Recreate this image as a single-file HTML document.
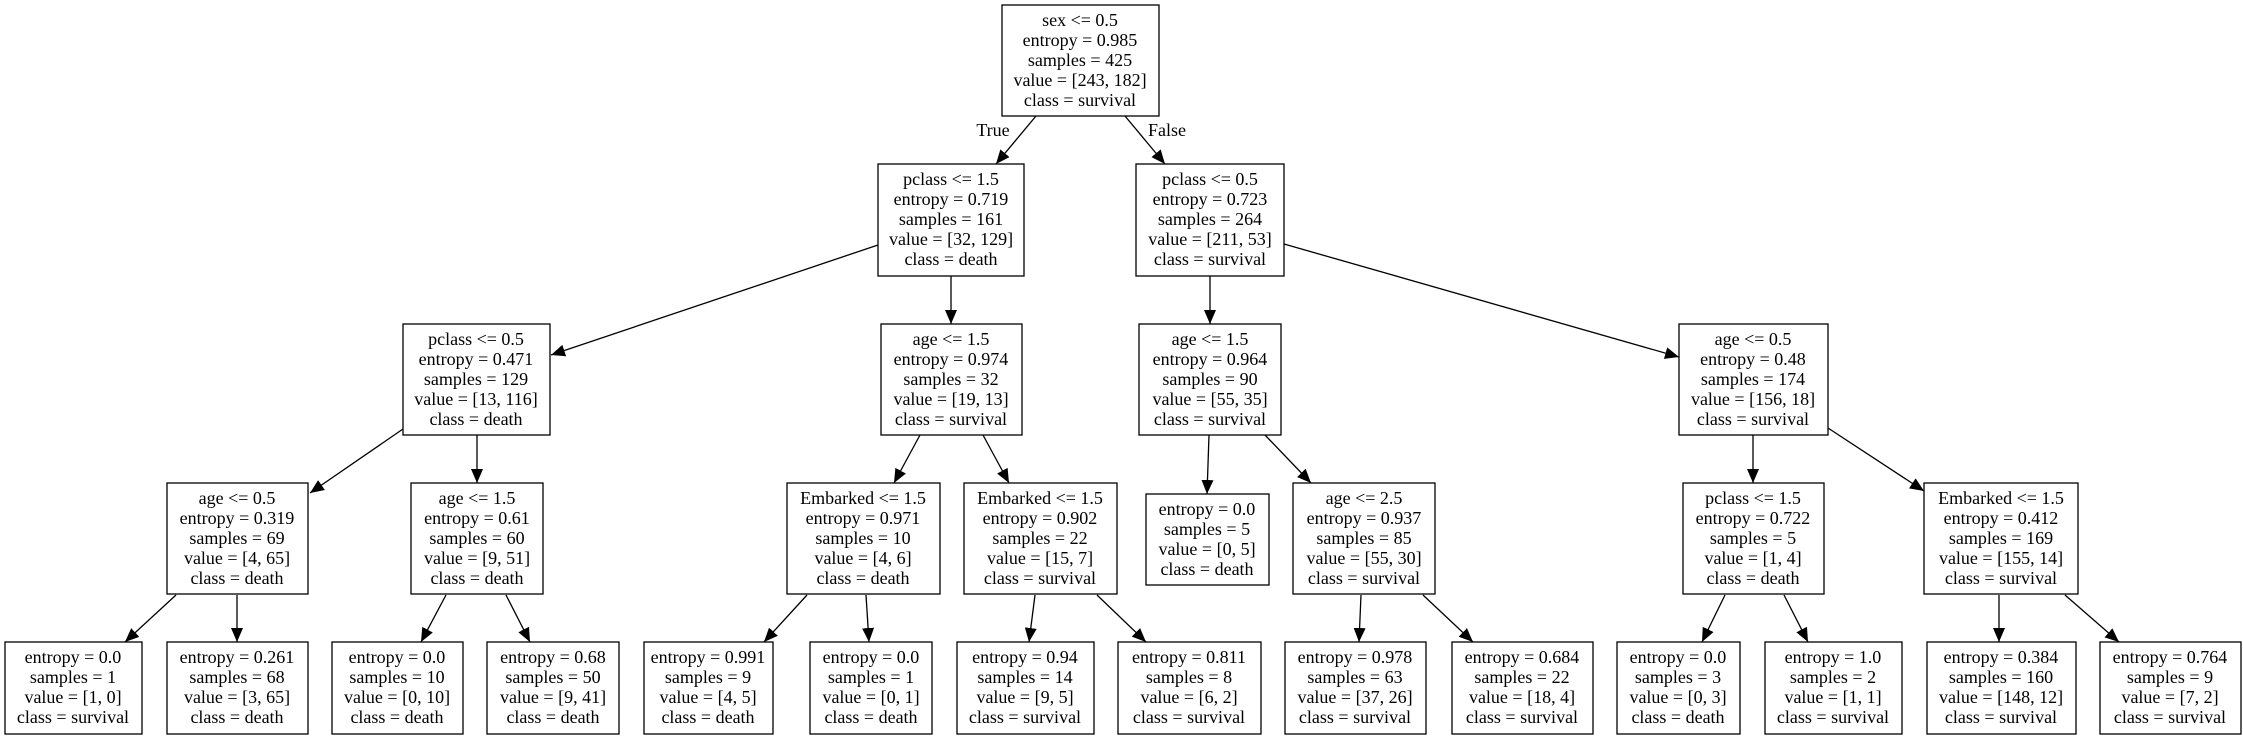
<!DOCTYPE html>
<html><head><meta charset="utf-8"><style>
html,body{margin:0;padding:0;background:#fff;}
svg{display:block;}
text{font-family:"Liberation Serif",serif;font-size:18px;fill:#000;}
</style></head><body>
<svg width="2243" height="736" viewBox="0 0 2243 736" xmlns="http://www.w3.org/2000/svg">
<defs>
<marker id="a" markerUnits="userSpaceOnUse" markerWidth="14" markerHeight="12" refX="14" refY="6" orient="auto">
<path d="M0,0 L14,6 L0,12 Z" fill="#000"/>
</marker>
</defs>
<g stroke="#000" stroke-width="1.3" fill="#fff">
<rect x="1002" y="5" width="157" height="111"/>
<rect x="878" y="164" width="146" height="112"/>
<rect x="1136" y="164" width="148" height="112"/>
<rect x="403" y="324" width="147" height="111"/>
<rect x="881" y="324" width="141" height="111"/>
<rect x="1139" y="324" width="142" height="111"/>
<rect x="1679" y="324" width="149" height="111"/>
<rect x="167" y="483" width="141" height="111"/>
<rect x="411" y="483" width="132" height="111"/>
<rect x="787" y="483" width="153" height="111"/>
<rect x="964" y="483" width="153" height="111"/>
<rect x="1146" y="494" width="123" height="91"/>
<rect x="1293" y="483" width="142" height="111"/>
<rect x="1683" y="483" width="141" height="111"/>
<rect x="1924" y="483" width="154" height="111"/>
<rect x="5" y="642" width="137" height="92"/>
<rect x="167" y="642" width="141" height="92"/>
<rect x="332" y="642" width="131" height="92"/>
<rect x="487" y="642" width="132" height="92"/>
<rect x="644" y="642" width="129" height="92"/>
<rect x="810" y="642" width="122" height="92"/>
<rect x="957" y="642" width="137" height="92"/>
<rect x="1118" y="642" width="143" height="92"/>
<rect x="1285" y="642" width="141" height="92"/>
<rect x="1452" y="642" width="141" height="92"/>
<rect x="1617" y="642" width="123" height="92"/>
<rect x="1765" y="642" width="137" height="92"/>
<rect x="1927" y="642" width="149" height="92"/>
<rect x="2100" y="642" width="141" height="92"/>
</g>
<g stroke="#000" stroke-width="1.3" marker-end="url(#a)">
<line x1="1036" y1="116" x2="996" y2="164"/>
<line x1="1125" y1="116" x2="1165" y2="164"/>
<line x1="878" y1="245" x2="551" y2="355"/>
<line x1="951" y1="276" x2="951" y2="324"/>
<line x1="1210" y1="276" x2="1210" y2="324"/>
<line x1="1284" y1="244" x2="1679" y2="357"/>
<line x1="403" y1="429" x2="310" y2="493"/>
<line x1="477" y1="435" x2="477" y2="483"/>
<line x1="920" y1="435" x2="894" y2="483"/>
<line x1="983" y1="435" x2="1009" y2="483"/>
<line x1="1209" y1="435" x2="1207" y2="494"/>
<line x1="1265" y1="435" x2="1311" y2="483"/>
<line x1="1753" y1="435" x2="1753" y2="483"/>
<line x1="1828" y1="428" x2="1924" y2="491"/>
<line x1="176" y1="595" x2="125" y2="642"/>
<line x1="237" y1="595" x2="237" y2="642"/>
<line x1="446" y1="595" x2="421" y2="642"/>
<line x1="506" y1="595" x2="530" y2="642"/>
<line x1="807" y1="595" x2="764" y2="642"/>
<line x1="866" y1="595" x2="869" y2="642"/>
<line x1="1035" y1="595" x2="1029" y2="642"/>
<line x1="1097" y1="595" x2="1146" y2="642"/>
<line x1="1361" y1="595" x2="1359" y2="642"/>
<line x1="1423" y1="595" x2="1473" y2="642"/>
<line x1="1725" y1="595" x2="1702" y2="642"/>
<line x1="1784" y1="595" x2="1808" y2="642"/>
<line x1="1999" y1="595" x2="1999" y2="642"/>
<line x1="2065" y1="595" x2="2119" y2="642"/>
</g>
<text x="993" y="136" text-anchor="middle">True</text>
<text x="1167" y="136" text-anchor="middle">False</text>
<g text-anchor="middle">
<text y="26"><tspan x="1080">sex &lt;= 0.5</tspan><tspan x="1080" dy="20">entropy = 0.985</tspan><tspan x="1080" dy="20">samples = 425</tspan><tspan x="1080" dy="20">value = [243, 182]</tspan><tspan x="1080" dy="20">class = survival</tspan></text>
<text y="185"><tspan x="951">pclass &lt;= 1.5</tspan><tspan x="951" dy="20">entropy = 0.719</tspan><tspan x="951" dy="20">samples = 161</tspan><tspan x="951" dy="20">value = [32, 129]</tspan><tspan x="951" dy="20">class = death</tspan></text>
<text y="185"><tspan x="1210">pclass &lt;= 0.5</tspan><tspan x="1210" dy="20">entropy = 0.723</tspan><tspan x="1210" dy="20">samples = 264</tspan><tspan x="1210" dy="20">value = [211, 53]</tspan><tspan x="1210" dy="20">class = survival</tspan></text>
<text y="345"><tspan x="476">pclass &lt;= 0.5</tspan><tspan x="476" dy="20">entropy = 0.471</tspan><tspan x="476" dy="20">samples = 129</tspan><tspan x="476" dy="20">value = [13, 116]</tspan><tspan x="476" dy="20">class = death</tspan></text>
<text y="345"><tspan x="951">age &lt;= 1.5</tspan><tspan x="951" dy="20">entropy = 0.974</tspan><tspan x="951" dy="20">samples = 32</tspan><tspan x="951" dy="20">value = [19, 13]</tspan><tspan x="951" dy="20">class = survival</tspan></text>
<text y="345"><tspan x="1210">age &lt;= 1.5</tspan><tspan x="1210" dy="20">entropy = 0.964</tspan><tspan x="1210" dy="20">samples = 90</tspan><tspan x="1210" dy="20">value = [55, 35]</tspan><tspan x="1210" dy="20">class = survival</tspan></text>
<text y="345"><tspan x="1753">age &lt;= 0.5</tspan><tspan x="1753" dy="20">entropy = 0.48</tspan><tspan x="1753" dy="20">samples = 174</tspan><tspan x="1753" dy="20">value = [156, 18]</tspan><tspan x="1753" dy="20">class = survival</tspan></text>
<text y="504"><tspan x="237">age &lt;= 0.5</tspan><tspan x="237" dy="20">entropy = 0.319</tspan><tspan x="237" dy="20">samples = 69</tspan><tspan x="237" dy="20">value = [4, 65]</tspan><tspan x="237" dy="20">class = death</tspan></text>
<text y="504"><tspan x="477">age &lt;= 1.5</tspan><tspan x="477" dy="20">entropy = 0.61</tspan><tspan x="477" dy="20">samples = 60</tspan><tspan x="477" dy="20">value = [9, 51]</tspan><tspan x="477" dy="20">class = death</tspan></text>
<text y="504"><tspan x="863">Embarked &lt;= 1.5</tspan><tspan x="863" dy="20">entropy = 0.971</tspan><tspan x="863" dy="20">samples = 10</tspan><tspan x="863" dy="20">value = [4, 6]</tspan><tspan x="863" dy="20">class = death</tspan></text>
<text y="504"><tspan x="1040">Embarked &lt;= 1.5</tspan><tspan x="1040" dy="20">entropy = 0.902</tspan><tspan x="1040" dy="20">samples = 22</tspan><tspan x="1040" dy="20">value = [15, 7]</tspan><tspan x="1040" dy="20">class = survival</tspan></text>
<text y="515"><tspan x="1207">entropy = 0.0</tspan><tspan x="1207" dy="20">samples = 5</tspan><tspan x="1207" dy="20">value = [0, 5]</tspan><tspan x="1207" dy="20">class = death</tspan></text>
<text y="504"><tspan x="1364">age &lt;= 2.5</tspan><tspan x="1364" dy="20">entropy = 0.937</tspan><tspan x="1364" dy="20">samples = 85</tspan><tspan x="1364" dy="20">value = [55, 30]</tspan><tspan x="1364" dy="20">class = survival</tspan></text>
<text y="504"><tspan x="1753">pclass &lt;= 1.5</tspan><tspan x="1753" dy="20">entropy = 0.722</tspan><tspan x="1753" dy="20">samples = 5</tspan><tspan x="1753" dy="20">value = [1, 4]</tspan><tspan x="1753" dy="20">class = death</tspan></text>
<text y="504"><tspan x="2001">Embarked &lt;= 1.5</tspan><tspan x="2001" dy="20">entropy = 0.412</tspan><tspan x="2001" dy="20">samples = 169</tspan><tspan x="2001" dy="20">value = [155, 14]</tspan><tspan x="2001" dy="20">class = survival</tspan></text>
<text y="663"><tspan x="73">entropy = 0.0</tspan><tspan x="73" dy="20">samples = 1</tspan><tspan x="73" dy="20">value = [1, 0]</tspan><tspan x="73" dy="20">class = survival</tspan></text>
<text y="663"><tspan x="237">entropy = 0.261</tspan><tspan x="237" dy="20">samples = 68</tspan><tspan x="237" dy="20">value = [3, 65]</tspan><tspan x="237" dy="20">class = death</tspan></text>
<text y="663"><tspan x="397">entropy = 0.0</tspan><tspan x="397" dy="20">samples = 10</tspan><tspan x="397" dy="20">value = [0, 10]</tspan><tspan x="397" dy="20">class = death</tspan></text>
<text y="663"><tspan x="553">entropy = 0.68</tspan><tspan x="553" dy="20">samples = 50</tspan><tspan x="553" dy="20">value = [9, 41]</tspan><tspan x="553" dy="20">class = death</tspan></text>
<text y="663"><tspan x="708">entropy = 0.991</tspan><tspan x="708" dy="20">samples = 9</tspan><tspan x="708" dy="20">value = [4, 5]</tspan><tspan x="708" dy="20">class = death</tspan></text>
<text y="663"><tspan x="871">entropy = 0.0</tspan><tspan x="871" dy="20">samples = 1</tspan><tspan x="871" dy="20">value = [0, 1]</tspan><tspan x="871" dy="20">class = death</tspan></text>
<text y="663"><tspan x="1025">entropy = 0.94</tspan><tspan x="1025" dy="20">samples = 14</tspan><tspan x="1025" dy="20">value = [9, 5]</tspan><tspan x="1025" dy="20">class = survival</tspan></text>
<text y="663"><tspan x="1189">entropy = 0.811</tspan><tspan x="1189" dy="20">samples = 8</tspan><tspan x="1189" dy="20">value = [6, 2]</tspan><tspan x="1189" dy="20">class = survival</tspan></text>
<text y="663"><tspan x="1355">entropy = 0.978</tspan><tspan x="1355" dy="20">samples = 63</tspan><tspan x="1355" dy="20">value = [37, 26]</tspan><tspan x="1355" dy="20">class = survival</tspan></text>
<text y="663"><tspan x="1522">entropy = 0.684</tspan><tspan x="1522" dy="20">samples = 22</tspan><tspan x="1522" dy="20">value = [18, 4]</tspan><tspan x="1522" dy="20">class = survival</tspan></text>
<text y="663"><tspan x="1678">entropy = 0.0</tspan><tspan x="1678" dy="20">samples = 3</tspan><tspan x="1678" dy="20">value = [0, 3]</tspan><tspan x="1678" dy="20">class = death</tspan></text>
<text y="663"><tspan x="1833">entropy = 1.0</tspan><tspan x="1833" dy="20">samples = 2</tspan><tspan x="1833" dy="20">value = [1, 1]</tspan><tspan x="1833" dy="20">class = survival</tspan></text>
<text y="663"><tspan x="2001">entropy = 0.384</tspan><tspan x="2001" dy="20">samples = 160</tspan><tspan x="2001" dy="20">value = [148, 12]</tspan><tspan x="2001" dy="20">class = survival</tspan></text>
<text y="663"><tspan x="2170">entropy = 0.764</tspan><tspan x="2170" dy="20">samples = 9</tspan><tspan x="2170" dy="20">value = [7, 2]</tspan><tspan x="2170" dy="20">class = survival</tspan></text>
</g>
</svg>
</body></html>
